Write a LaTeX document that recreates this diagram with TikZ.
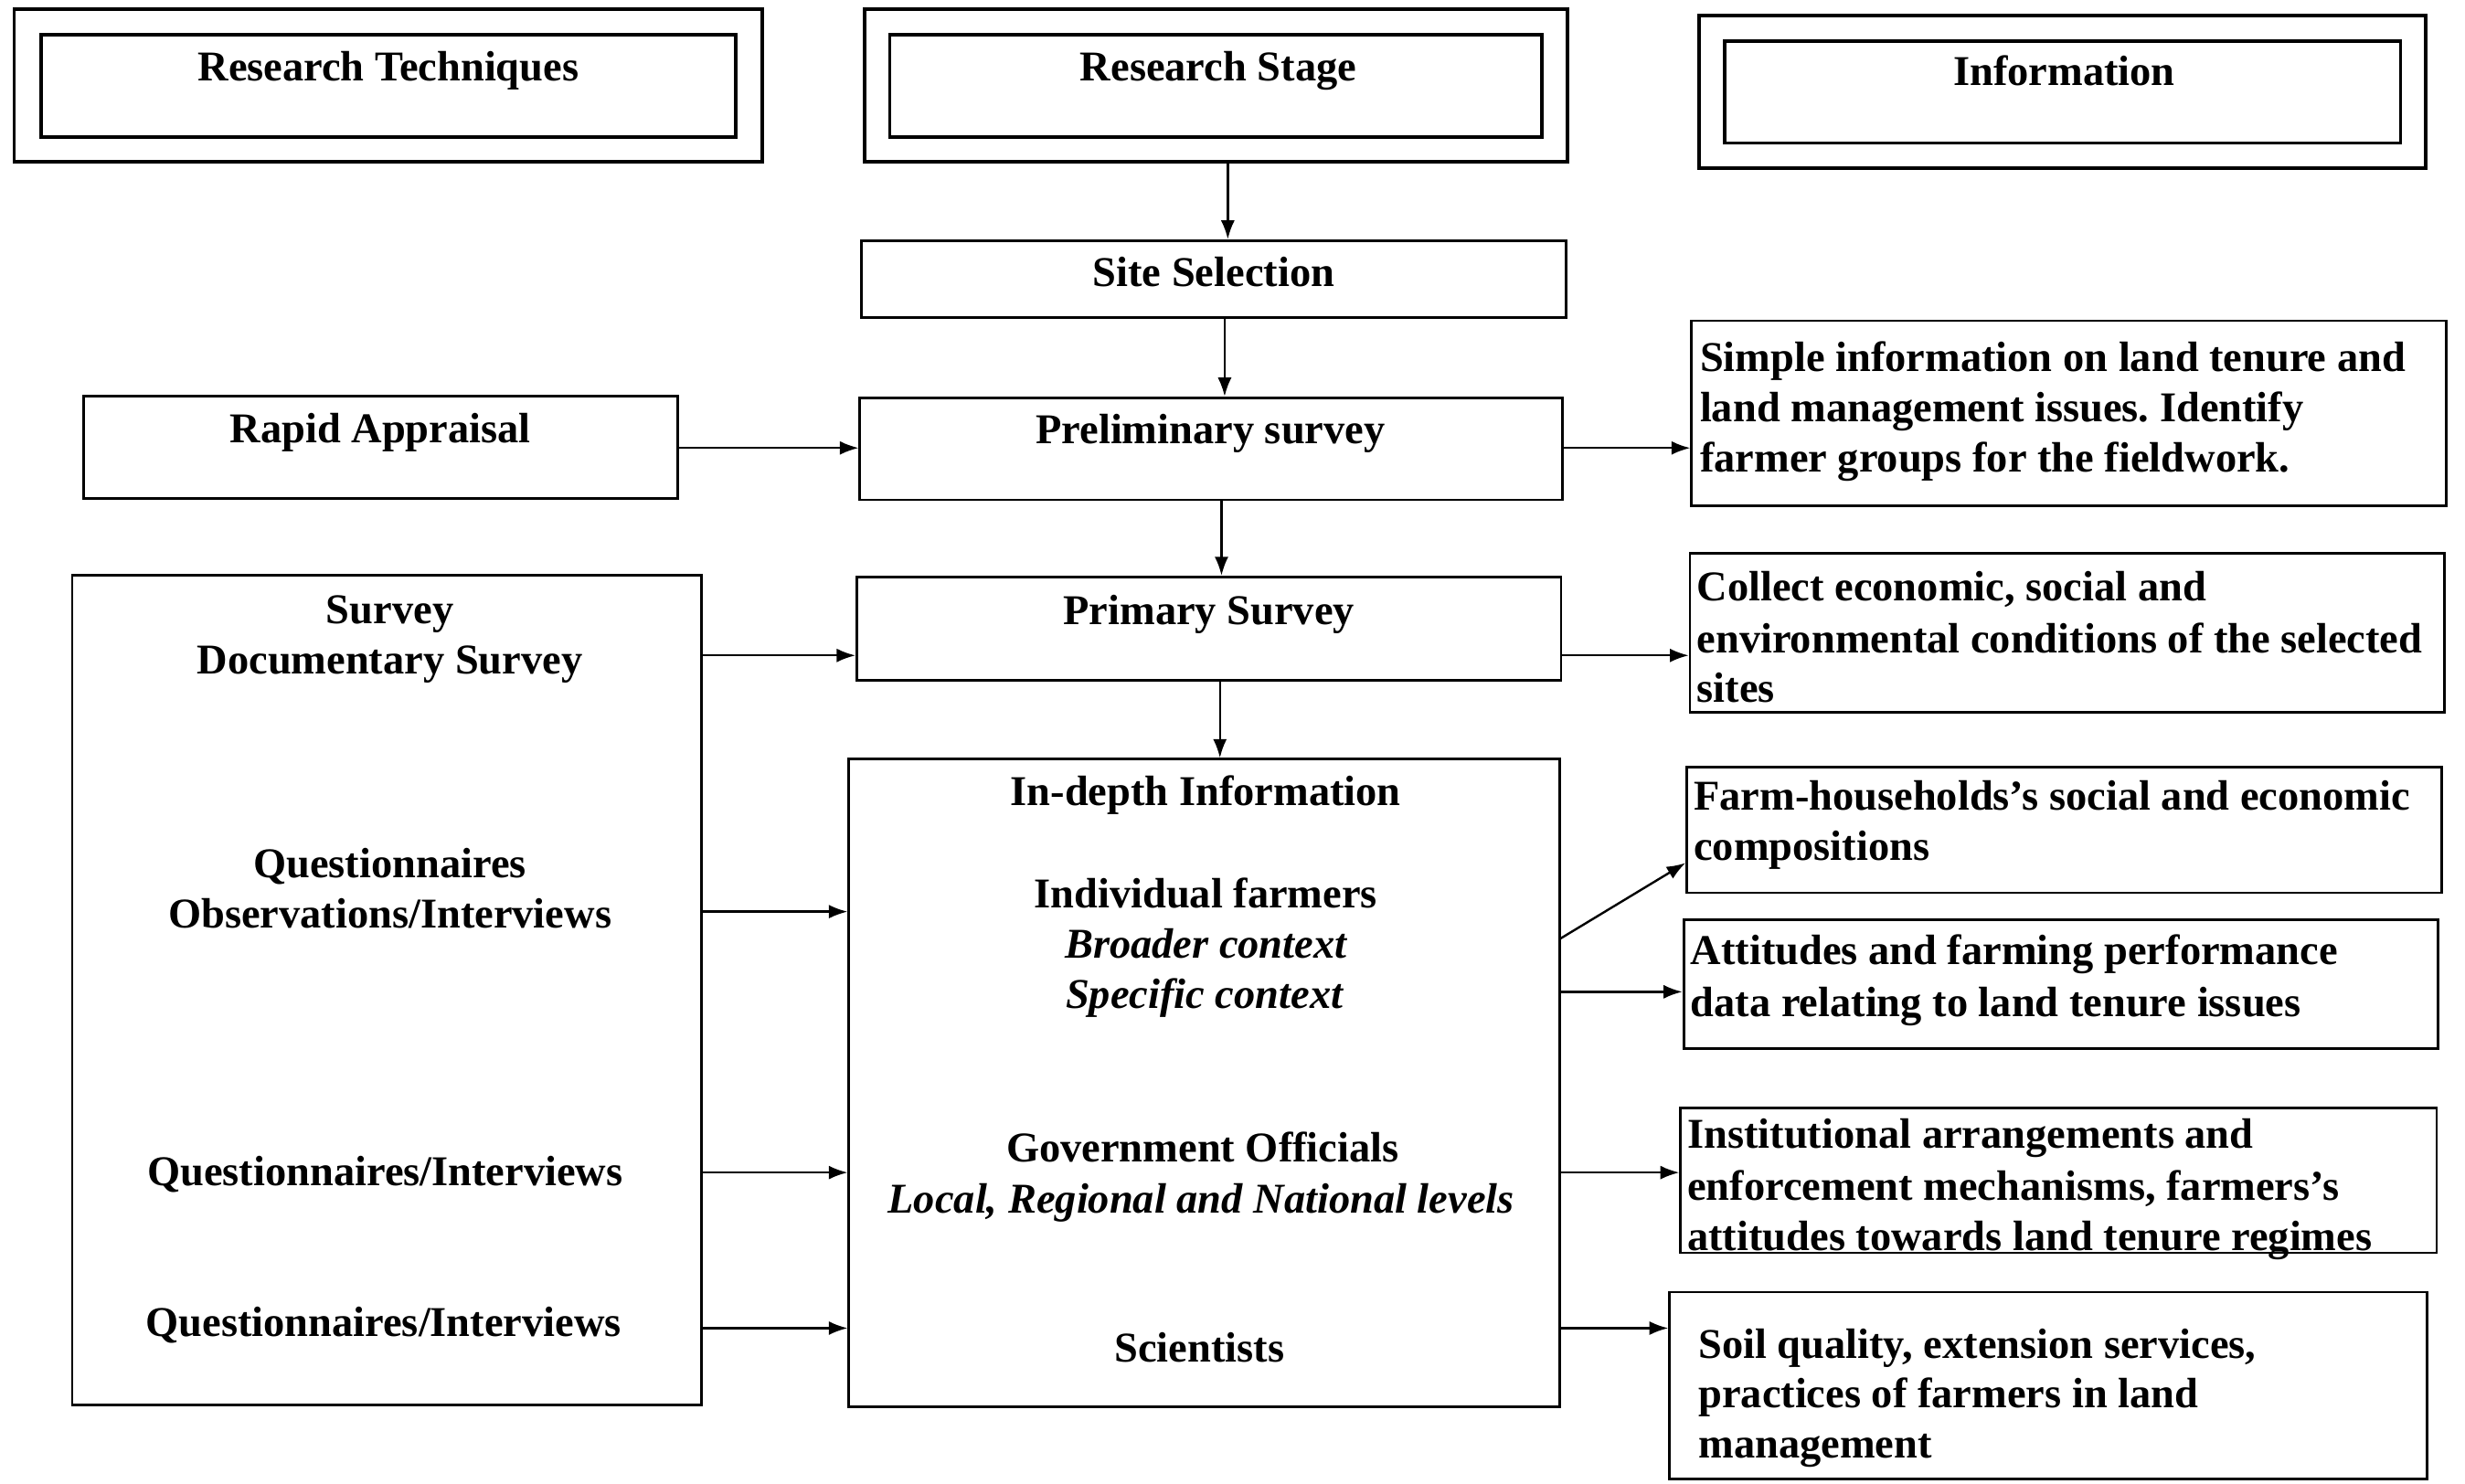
\documentclass[tikz,border=0pt]{standalone}
\usepackage{fontspec}
\setmainfont{Liberation Serif}
\usetikzlibrary{fit,arrows.meta}
\frenchspacing
\begin{document}
\frenchspacing
\begin{tikzpicture}[x=0.5pt,y=-0.5pt,
  box/.style={draw, line width=0.8pt, inner sep=0pt},
  hbox/.style={draw, line width=1.1pt, inner sep=0pt},
  txt/.style={inner sep=0pt, font=\fontsize{13.5}{16}\selectfont\bfseries, text height=10pt, text depth=1.5pt},
  itxt/.style={inner sep=0pt, font=\fontsize{13.5}{16}\selectfont\bfseries\itshape, text height=10pt, text depth=1.5pt},
  ltxt/.style={txt, anchor=west},
  arr/.style={-{Latex[length=6pt,width=4.4pt]}, line width=0.7pt}]
\useasboundingbox[fill=white] (0,0) rectangle (1568,944);

% header boxes
\node[hbox, fit={(9,6) (485,103)}] (rtOut) {};
\node[hbox, fit={(26,22) (468,87)}] (rtIn) {};
\node[hbox, fit={(550,6) (997,103)}] (rsOut) {};
\node[hbox, fit={(566,22) (981,87)}] (rsIn) {};
\node[hbox, fit={(1081,10) (1543,107)}] (infOut) {};
\node[hbox, fit={(1097,26) (1527,91)}] (infIn) {};
\node[txt] (rtT) at (247,43) {Research Techniques};
\node[txt] (rsT) at (775,43) {Research Stage};
\node[txt] (infT) at (1313,46) {Information};

% stage boxes
\node[box, fit={(548,153) (996,202)}] (site) {};
\node[txt] (siteT) at (772,174) {Site Selection};
\node[box, fit={(53,252) (431,317)}] (rapid) {};
\node[txt] (rapidT) at (242,273) {Rapid Appraisal};
\node[box, fit={(547,253) (994,318)}] (prelim) {};
\node[txt] (prelimT) at (770,274) {Preliminary survey};
\node[box, fit={(545,367) (993,433)}] (primary) {};
\node[txt] (primaryT) at (769,389) {Primary Survey};

% left techniques box
\node[box, fit={(46,366) (446,894)}] (left) {};
\node[txt] (lt1) at (248,388) {Survey};
\node[txt] (lt2) at (248,420) {Documentary Survey};
\node[txt] (lt3) at (248,550) {Questionnaires};
\node[txt] (lt4) at (248,582) {Observations/Interviews};
\node[txt] (lt5) at (245,746) {Questionnaires/Interviews};
\node[txt] (lt6) at (244,842) {Questionnaires/Interviews};

% in-depth box
\node[box, fit={(540,483) (992,895)}] (indepth) {};
\node[txt] (id1) at (767,504) {In-depth Information};
\node[txt] (id2) at (767,569) {Individual farmers};
\node[itxt] (id3) at (767,601) {Broader context};
\node[itxt] (id4) at (766,633) {Specific context};
\node[txt] (id5) at (765,731) {Government Officials};
\node[itxt] (id6) at (764,763) {Local, Regional and National levels};
\node[txt] (id7) at (763,858) {Scientists};

% information boxes
\node[box, fit={(1076,204) (1556,322)}] (simple) {};
\node[ltxt] (s1) at (1081,228) {Simple information on land tenure and};
\node[ltxt] (s2) at (1081,260) {land management issues. Identify};
\node[ltxt] (s3) at (1081,292) {farmer groups for the fieldwork.};

\node[box, fit={(1075,352) (1555,453)}] (collect) {};
\node[ltxt] (c1) at (1079,374) {Collect economic, social and};
\node[ltxt] (c2) at (1079,407) {environmental conditions of the selected};
\node[ltxt] (c3) at (1079,438) {sites};

\node[box, fit={(1073,488) (1553,568)}] (farm) {};
\node[ltxt] (f1) at (1077,507) {Farm-households’s social and economic};
\node[ltxt] (f2) at (1077,539) {compositions};

\node[box, fit={(1071,585) (1551,667)}] (att) {};
\node[ltxt] (a1) at (1075,605) {Attitudes and farming performance};
\node[ltxt] (a2) at (1075,638) {data relating to land tenure issues};

\node[box, fit={(1069,705) (1550,797)}] (inst) {};
\node[ltxt] (i1) at (1073,722) {Institutional arrangements and};
\node[ltxt] (i2) at (1073,755) {enforcement mechanisms, farmers’s};
\node[ltxt] (i3) at (1073,787) {attitudes towards land tenure regimes};

\node[box, fit={(1062,822) (1544,941)}] (soil) {};
\node[ltxt] (so1) at (1080,856) {Soil quality, extension services,};
\node[ltxt] (so2) at (1080,887) {practices of farmers in land};
\node[ltxt] (so3) at (1080,919) {management};

% vertical arrows
\draw[arr] ([xshift=3.75pt]rsOut.south) -- ([xshift=3.75pt]rsOut.south |- site.north);
\draw[arr] ([xshift=3.5pt]site.south) -- ([xshift=3.5pt]site.south |- prelim.north);
\draw[arr] ([xshift=3.25pt]prelim.south) -- ([xshift=3.25pt]prelim.south |- primary.north);
\draw[arr] ([xshift=3.5pt]primary.south) -- ([xshift=3.5pt]primary.south |- indepth.north);

% horizontal arrow rows
\coordinate (r0) at (0,285);
\coordinate (r1) at (0,417);
\coordinate (r2) at (0,580);
\coordinate (r3) at (0,746);
\coordinate (r4) at (0,845);
\coordinate (r5) at (0,631);
\coordinate (d1) at (0,597);
\coordinate (d2) at (0,549);

\draw[arr] (rapid.east |- r0) -- (prelim.west |- r0);
\draw[arr] (prelim.east |- r0) -- (simple.west |- r0);
\draw[arr] (left.east |- r1) -- (primary.west |- r1);
\draw[arr] (primary.east |- r1) -- (collect.west |- r1);
\draw[arr] (left.east |- r2) -- (indepth.west |- r2);
\draw[arr] (left.east |- r3) -- (indepth.west |- r3);
\draw[arr] (left.east |- r4) -- (indepth.west |- r4);
\draw[arr] (indepth.east |- d1) -- (farm.west |- d2);
\draw[arr] (indepth.east |- r5) -- (att.west |- r5);
\draw[arr] (indepth.east |- r3) -- (inst.west |- r3);
\draw[arr] (indepth.east |- r4) -- (soil.west |- r4);
\end{tikzpicture}
\end{document}
